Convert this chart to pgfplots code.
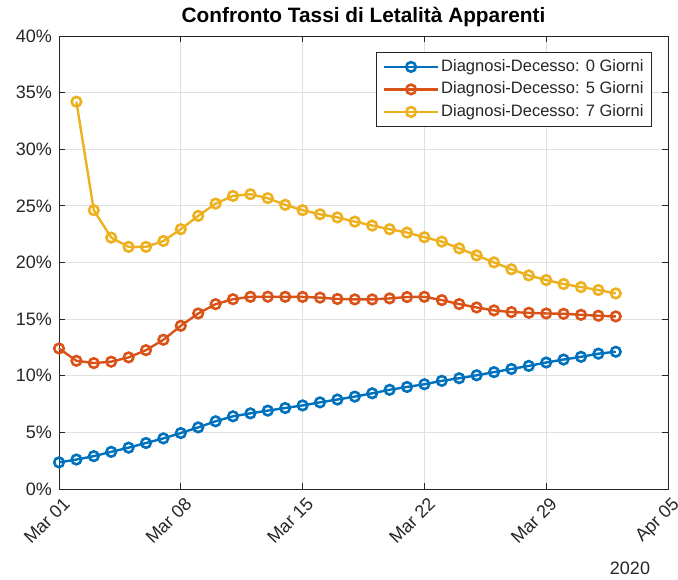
\documentclass[border=0pt]{standalone}
\usepackage{fontspec}
\setmainfont{Liberation Sans}
\usepackage{pgfplots}
\pgfplotsset{compat=1.18}
\definecolor{mblue}{rgb}{0,0.447,0.741}
\definecolor{morange}{rgb}{0.85,0.325,0.098}
\definecolor{myellow}{rgb}{0.929,0.694,0.125}
\definecolor{axgray}{rgb}{0.15,0.15,0.15}
\definecolor{gridgray}{rgb}{0.88,0.88,0.88}
\begin{document}
\begin{tikzpicture}
\useasboundingbox (-59pt,-90pt) rectangle (619pt,489pt);
\begin{axis}[
 at={(0,0)}, anchor=south west,
 width=609pt, height=453pt, scale only axis,
 xmin=0, xmax=35, ymin=0, ymax=40,
 clip=false,
 xtick={0,7,14,21,28,35},
 xticklabels={Mar 01,Mar 08,Mar 15,Mar 22,Mar 29,Apr 05},
 ytick={0,5,...,40},
 yticklabels={0\%,5\%,10\%,15\%,20\%,25\%,30\%,35\%,40\%},
 tick align=inside, tick pos=both, major tick length=6pt,
 grid=major, grid style={gridgray, line width=0.8pt},
 axis line style={axgray, line width=0.8pt},
 tick style={axgray, line width=0.8pt},
 ticklabel style={font=\fontsize{18}{20}\selectfont, text=axgray},
 xticklabel style={xshift=3pt, yshift=-7pt, rotate=45, anchor=north east, inner sep=0pt},
 yticklabel style={anchor=east, inner sep=0pt, xshift=-7pt},
 title={\bfseries Confronto Tassi di Letalità Apparenti},
 title style={font=\fontsize{20.8}{24}\selectfont, at={(0.5,1)}, anchor=base, yshift=8pt, inner sep=0pt},
 legend style={at={(1,1)}, anchor=north east, xshift=-16pt, yshift=-16pt, draw=axgray, line width=0.8pt, inner xsep=6pt, inner ysep=3.25pt, font=\fontsize{16.5}{18}\selectfont, text=black!85, nodes={inner xsep=2pt, inner ysep=3.5pt, text height=12pt, text depth=3.5pt}, row sep=0pt},
 legend cell align=left,
 legend image code/.code={\draw[#1, mark repeat=2, mark phase=2] plot coordinates {(0pt,0pt) (27pt,0pt) (54pt,0pt)};},
]
\addplot[mblue, line width=2.4pt, mark=o, mark size=4.8pt, mark options={line width=2.6pt}] coordinates {
(0,2.35)(1,2.6)(2,2.9)(3,3.28)(4,3.65)(5,4.06)(6,4.47)(7,4.94)(8,5.44)(9,5.98)
(10,6.42)(11,6.68)(12,6.92)(13,7.15)(14,7.38)(15,7.65)(16,7.9)(17,8.16)(18,8.45)(19,8.76)
(20,9.01)(21,9.25)(22,9.55)(23,9.78)(24,10.04)(25,10.32)(26,10.6)(27,10.87)(28,11.17)(29,11.43)
(30,11.67)(31,11.95)(32,12.12)};
\addlegendentry{Diagnosi-Decesso: 0 Giorni}
\addplot[morange, line width=2.4pt, mark=o, mark size=4.8pt, mark options={line width=2.6pt}] coordinates {
(0,12.41)(1,11.32)(2,11.12)(3,11.24)(4,11.62)(5,12.26)(6,13.18)(7,14.41)(8,15.5)(9,16.32)
(10,16.76)(11,16.97)(12,16.98)(13,16.97)(14,16.96)(15,16.9)(16,16.78)(17,16.74)(18,16.74)(19,16.83)
(20,16.95)(21,16.97)(22,16.68)(23,16.33)(24,16.03)(25,15.77)(26,15.62)(27,15.56)(28,15.5)(29,15.47)
(30,15.38)(31,15.3)(32,15.24)};
\addlegendentry{Diagnosi-Decesso: 5 Giorni}
\addplot[myellow, line width=2.4pt, mark=o, mark size=4.8pt, mark options={line width=2.6pt}] coordinates {
(1,34.2)(2,24.62)(3,22.2)(4,21.38)(5,21.38)(6,21.9)(7,22.94)(8,24.12)(9,25.2)
(10,25.88)(11,26.03)(12,25.68)(13,25.09)(14,24.62)(15,24.26)(16,23.98)(17,23.61)(18,23.26)(19,22.94)
(20,22.64)(21,22.23)(22,21.84)(23,21.25)(24,20.63)(25,20.01)(26,19.4)(27,18.86)(28,18.45)(29,18.1)
(30,17.83)(31,17.57)(32,17.27)};
\addlegendentry{Diagnosi-Decesso: 7 Giorni}
\node[font=\fontsize{18}{20}\selectfont, text=axgray] at (axis description cs:0.9376,-0.1744) {2020};
\end{axis}
\end{tikzpicture}
\end{document}
